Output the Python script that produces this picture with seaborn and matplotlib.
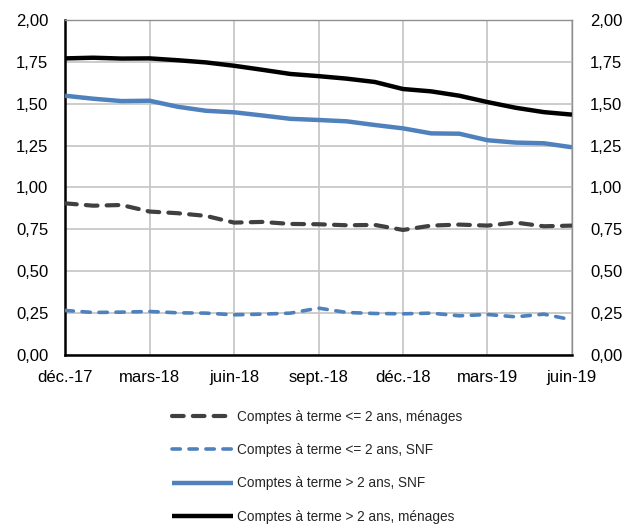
import matplotlib
matplotlib.use("Agg")
import matplotlib.pyplot as plt
import seaborn as sns
import pandas as pd
import numpy as np

months = ["déc.-17", "janv.-18", "févr.-18", "mars-18", "avr.-18", "mai-18", "juin-18",
          "juil.-18", "août-18", "sept.-18", "oct.-18", "nov.-18", "déc.-18",
          "janv.-19", "févr.-19", "mars-19", "avr.-19", "mai-19", "juin-19"]
tick_labels = ["déc.-17", "mars-18", "juin-18", "sept.-18", "déc.-18", "mars-19", "juin-19"]

menages_le2 = [0.905, 0.891, 0.895, 0.856, 0.846, 0.830, 0.790, 0.794, 0.782, 0.780,
               0.774, 0.776, 0.746, 0.772, 0.778, 0.772, 0.790, 0.768, 0.772]
snf_le2 = [0.265, 0.253, 0.255, 0.259, 0.251, 0.249, 0.239, 0.243, 0.249, 0.279,
           0.253, 0.247, 0.245, 0.249, 0.233, 0.241, 0.227, 0.243, 0.209]
snf_gt2 = [1.548, 1.530, 1.516, 1.518, 1.482, 1.458, 1.449, 1.430, 1.410, 1.403,
           1.395, 1.373, 1.353, 1.323, 1.321, 1.282, 1.268, 1.264, 1.240]
menages_gt2 = [1.771, 1.775, 1.770, 1.771, 1.760, 1.747, 1.727, 1.703, 1.678, 1.665,
               1.650, 1.630, 1.588, 1.574, 1.548, 1.510, 1.476, 1.450, 1.435]

series_names = ["Comptes à terme <= 2 ans, ménages",
                "Comptes à terme <= 2 ans, SNF",
                "Comptes à terme > 2 ans, SNF",
                "Comptes à terme > 2 ans, ménages"]
series_values = [menages_le2, snf_le2, snf_gt2, menages_gt2]
colors = ["#404040", "#4f81bd", "#4f81bd", "#000000"]
styles = [(0, (2.8, 2.2)), (0, (2.3, 2.4)), "-", "-"]
widths = [3.0, 2.6, 3.2, 3.2]

rows = []
for name, vals in zip(series_names, series_values):
    for i, (m, v) in enumerate(zip(months, vals)):
        rows.append({"idx": i, "mois": m, "serie": name, "valeur": v})
df = pd.DataFrame(rows)

sns.set_theme(style="white")
plt.rcParams['font.family'] = ['Liberation Sans', 'DejaVu Sans']

fig = plt.figure(figsize=(6.32, 5.28), dpi=100)
ax = fig.add_axes([0.103, 0.328, 0.802, 0.634])

for name, c, ls, lw in zip(series_names, colors, styles, widths):
    sub = df[df["serie"] == name]
    sns.lineplot(data=sub, x="idx", y="valeur", ax=ax, color=c, linewidth=lw,
                 label=name, zorder=3)
for line, ls in zip(ax.get_lines(), styles):
    line.set_linestyle(ls)
    line.set_solid_capstyle("butt")
    line.set_dash_capstyle("round")

ax.set_xlim(0, len(months) - 1)
ax.set_ylim(0, 2.0)
tick_pos = [months.index(t) for t in tick_labels]
ax.set_xticks(tick_pos)
ax.set_xticklabels(tick_labels, fontsize=12, color="#000000")
yt = np.arange(0, 2.01, 0.25)
ax.set_yticks(yt)
ax.set_yticklabels([f"{v:.2f}".replace(".", ",") for v in yt], fontsize=12, color="#000000")
ax.set_xlabel("")
ax.set_ylabel("")
ax.grid(True, color="#c8c8c8", linewidth=1.3, zorder=0)
ax.set_axisbelow(True)
ax.tick_params(axis="x", length=0, pad=11)
ax.tick_params(axis="y", length=0, pad=12)

for s in ["top", "right"]:
    ax.spines[s].set_color("#909090")
    ax.spines[s].set_linewidth(1.0)
for s in ["left", "bottom"]:
    ax.spines[s].set_color("#000000")
    ax.spines[s].set_linewidth(1.8)

ax2 = ax.twinx()
ax2.set_ylim(0, 2.0)
ax2.set_yticks(yt)
ax2.set_yticklabels([f"{v:.2f}".replace(".", ",") for v in yt], fontsize=12, color="#000000")
ax2.tick_params(axis="y", length=0, pad=13)
for s in ax2.spines.values():
    s.set_visible(False)
ax2.grid(False)

handles, labels = ax.get_legend_handles_labels()
ax.get_legend().remove()
fig.legend(handles, labels, loc="upper left", bbox_to_anchor=(0.272, 0.224),
           frameon=False, fontsize=9.8, handlelength=4.5, labelspacing=1.42,
           handletextpad=0.3, borderpad=0, borderaxespad=0)

fig.savefig("out.png", dpi=100)
